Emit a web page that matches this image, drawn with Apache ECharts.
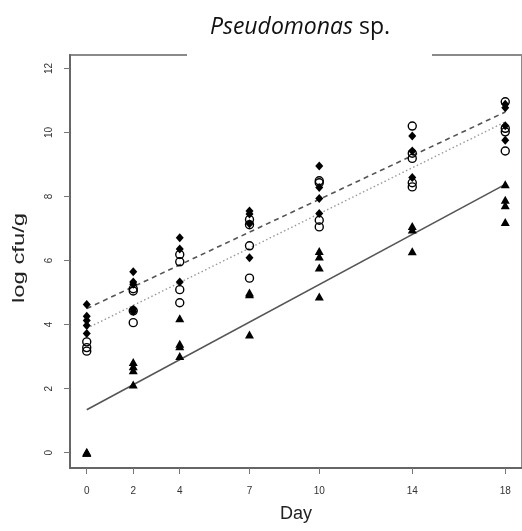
<!DOCTYPE html>
<html>
<head>
<meta charset="utf-8">
<script src="https://cdn.jsdelivr.net/npm/echarts@6/dist/echarts.min.js"></script>
<style>
  html, body { margin: 0; padding: 0; background: #fff; }
  #chart { width: 522px; height: 531px; }
</style>
</head>
<body>
<div id="chart"></div>
<script>
  // sampling days and tick labels
  const days = [0, 2, 4, 7, 10, 14, 18]
  const yTicks = [0, 2, 4, 6, 8, 10, 12]

  // replicate values per day (log cfu/g)
  const diamondVals = [
    [4.63, 4.26, 4.13, 3.97, 3.72],
    [5.65, 5.33, 5.26, 4.48, 4.41],
    [6.71, 6.36, 5.33],
    [7.55, 7.45, 7.15, 6.09],
    [8.95, 8.28, 7.94, 7.47],
    [9.89, 9.42, 8.59],
    [10.88, 10.77, 10.21, 9.76]
  ]
  const circleVals = [
    [3.46, 3.28, 3.17],
    [5.12, 5.05, 4.43, 4.06],
    [6.19, 5.96, 5.09, 4.68],
    [7.28, 7.12, 6.46, 5.45],
    [8.49, 8.43, 7.26, 7.05],
    [10.2, 9.35, 9.19, 8.43, 8.3],
    [10.96, 10.13, 10.02, 9.42]
  ]
  const triangleVals = [
    [0, 0.03, 0],
    [2.83, 2.7, 2.57, 2.13],
    [4.2, 3.4, 3.32, 3.02],
    [5.0, 4.95, 3.69],
    [6.3, 6.13, 5.78, 4.88],
    [7.08, 6.97, 6.29],
    [8.38, 7.9, 7.73, 7.2]
  ]

  // fitted lines, value at day 0 and day 18
  const fitDays = [0, 18]
  const diamondFit = [4.5, 10.64]
  const circleFit = [3.88, 10.33]
  const triangleFit = [1.34, 8.38]

  const toPoints = vals => days.flatMap((d, i) => vals[i].map(v => [d, v]))
  const toLine = fit => fitDays.map((d, i) => [d, fit[i]])

  const chart = echarts.init(document.getElementById('chart'))

  chart.setOption({
    animation: false,
    grid: {
      left: 70,
      top: 55,
      width: 456,
      height: 413,
      show: true,
      borderColor: '#8a8a8a',
      borderWidth: 2
    },
    xAxis: {
      type: 'value',
      min: -0.72,
      max: 18.72,
      name: 'Day',
      nameLocation: 'middle',
      nameGap: 37,
      nameTextStyle: { fontFamily: 'Liberation Sans', fontSize: 18, color: '#222' },
      axisLine: { show: true, onZero: false, lineStyle: { color: '#666', width: 2 } },
      axisTick: { show: true, length: 6, customValues: days, lineStyle: { color: '#777' } },
      axisLabel: {
        customValues: days,
        margin: 18,
        fontFamily: 'Liberation Sans',
        fontSize: 10,
        color: '#333'
      },
      splitLine: { show: false }
    },
    yAxis: {
      type: 'value',
      min: -0.48,
      max: 12.42,
      axisLine: { show: true, onZero: false, lineStyle: { color: '#666', width: 2 } },
      axisTick: { show: true, length: 6, customValues: yTicks, lineStyle: { color: '#777' } },
      axisLabel: {
        customValues: yTicks,
        rotate: 90,
        margin: 16,
        fontFamily: 'Liberation Sans',
        fontSize: 10,
        color: '#333'
      },
      splitLine: { show: false }
    },
    graphic: [
      {
        type: 'rect',
        shape: { x: 187, y: 38, width: 245, height: 24 },
        style: { fill: '#fff' },
        z: 100
      },
      {
        type: 'text',
        x: 300,
        y: 27,
        z: 101,
        style: {
          text: '{i|Pseudomonas} sp.',
          fontFamily: 'Open Sans',
          fontSize: 23,
          fill: '#111',
          align: 'center',
          verticalAlign: 'middle',
          rich: {
            i: { fontFamily: 'Open Sans', fontSize: 23, fontStyle: 'italic', fill: '#111' }
          }
        }
      },
      {
        type: 'text',
        x: 19,
        y: 258,
        rotation: Math.PI / 2,
        scaleX: 1.4,
        style: {
          text: 'log cfu/g',
          fontFamily: 'Liberation Sans',
          fontSize: 17,
          fill: '#222',
          align: 'center',
          verticalAlign: 'middle'
        }
      }
    ],
    series: [
      {
        type: 'line',
        data: toLine(diamondFit),
        showSymbol: false,
        silent: true,
        lineStyle: { color: '#555', width: 1.6, type: [5, 4] },
        z: 1
      },
      {
        type: 'line',
        data: toLine(circleFit),
        showSymbol: false,
        silent: true,
        lineStyle: { color: '#999', width: 1.4, type: [1.5, 2.5] },
        z: 1
      },
      {
        type: 'line',
        data: toLine(triangleFit),
        showSymbol: false,
        silent: true,
        lineStyle: { color: '#555', width: 1.6 },
        z: 1
      },
      {
        type: 'scatter',
        data: toPoints(circleVals),
        symbol: 'circle',
        symbolSize: 8,
        itemStyle: { color: 'rgba(0,0,0,0)', borderColor: '#000', borderWidth: 1.4, opacity: 1 },
        z: 3
      },
      {
        type: 'scatter',
        data: toPoints(diamondVals),
        symbol: 'diamond',
        symbolSize: [8, 9],
        itemStyle: { color: '#000', opacity: 1 },
        z: 3
      },
      {
        type: 'scatter',
        data: toPoints(triangleVals),
        symbol: 'triangle',
        symbolSize: [9, 8],
        itemStyle: { color: '#000', opacity: 1 },
        z: 3
      }
    ]
  })
</script>
</body>
</html>
